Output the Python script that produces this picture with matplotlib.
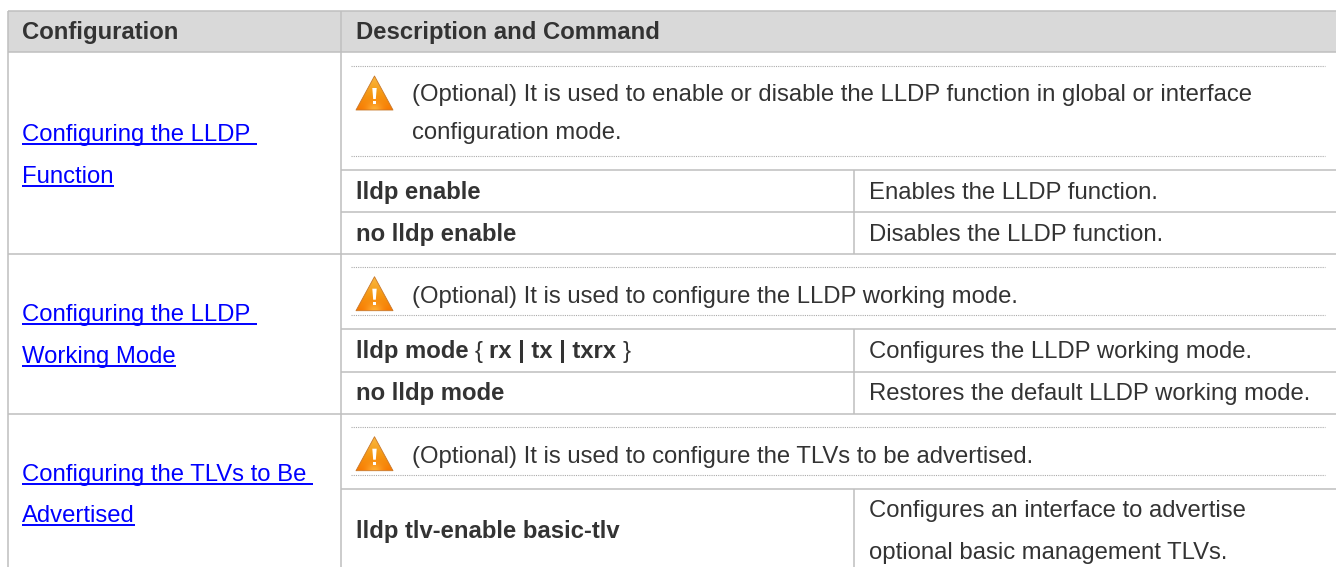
"""
LLDP configuration table
"""
import numpy as np
from matplotlib import pyplot as plt
from matplotlib.patches import Polygon, Rectangle

plt.rcParams['font.family'] = ['Liberation Sans', 'DejaVu Sans']

headers = ["Configuration", "Description and Command"]
linkLines = [["Configuring the LLDP ", "Function"],
             ["Configuring the LLDP ", "Working Mode"],
             ["Configuring the TLVs to Be ", "Advertised"]]
noteLines = [["(Optional) It is used to enable or disable the LLDP function in global or interface",
              "configuration mode."],
             ["(Optional) It is used to configure the LLDP working mode."],
             ["(Optional) It is used to configure the TLVs to be advertised."]]
# (text, bold) pieces, the mode command mixes weights
commands = [[("lldp enable", True)],
            [("no lldp enable", True)],
            [("lldp mode", True), ("{", False), ("rx | tx | txrx", True), ("}", False)],
            [("no lldp mode", True)],
            [("lldp tlv-enable basic-tlv", True)]]
commandNotes = [["Enables the LLDP function."],
                ["Disables the LLDP function."],
                ["Configures the LLDP working mode."],
                ["Restores the default LLDP working mode."],
                ["Configures an interface to advertise", "optional basic management TLVs."]]

# layout, in image pixels
W, H = 1336, 567
colLeft, colMid, colRight = 7.5, 340.5, 853.5
tableTop, headerBottom = 10.5, 52
groupLines = [253.5, 413.5]
innerLines = [169.5, 211.5, 329, 371.5, 488.5]
dotted = [(66, 155.7), (266.7, 315.3), (426.7, 475)]
linkBase = [(141, 183), (321, 363), (481, 522)]
noteBase = [(100.5, 139.5), (303,), (463,)]
commandBase = [199, 241, 358, 400, 538]
commandNoteBase = [(199,), (241,), (358,), (400,), (517, 559)]

lineColor = "#BFBFBF"
textColor = "#333333"
fontSize = 17.2

fig = plt.figure(figsize=(W/100, H/100), dpi=100)
ax = fig.add_axes([0, 0, 1, 1])
ax.set_xlim(0, W)
ax.set_ylim(H, 0)
ax.axis("off")


def drawIcon(top):
    """Orange warning triangle with a white mark, 37px wide and 34px tall"""
    left, right, bottom = 356, 393, top + 34
    mid = (left + right)/2
    # vertical fade, with a lighter glow low in the middle
    yy, xx = np.mgrid[0:1:40j, -1:1:40j]
    stops = np.array([[0.98, 0.72, 0.25], [0.96, 0.60, 0.08], [0.97, 0.47, 0.0]])
    shade = np.stack([np.interp(yy, [0, 0.5, 1], stops[:, c]) for c in range(3)], axis=2)
    glow = np.exp(-((xx/0.45)**2 + ((yy - 1)/0.22)**2))[:, :, None]
    shade = shade + (np.array([1.0, 0.68, 0.2]) - shade)*glow
    img = ax.imshow(shade, extent=(left, right, bottom, top), aspect="auto", zorder=3)
    tri = Polygon([(mid, top), (right, bottom), (left, bottom)], closed=True,
                  facecolor="none", edgecolor="#C8772A", lw=0.6, joinstyle="round", zorder=4)
    ax.add_patch(tri)
    img.set_clip_path(tri)
    ax.add_patch(Polygon([(mid - 2.2, top + 12), (mid + 2.2, top + 12), (mid + 1.3, top + 23), (mid - 1.3, top + 23)],
                         closed=True, facecolor="white", edgecolor="none", zorder=5))
    ax.add_patch(Rectangle((mid - 1.8, top + 25), 3.6, 3.4, facecolor="white", edgecolor="none", zorder=5))


def hline(y, x0, x1=W):
    ax.plot([x0, x1], [y, y], color=lineColor, lw=1.1, solid_capstyle="butt", zorder=2)


def vline(x, y0, y1=H):
    ax.plot([x, x], [y0, y1], color=lineColor, lw=1.1, solid_capstyle="butt", zorder=2)


def put(x, y, s, bold=False, color=textColor):
    return ax.text(x, y, s, fontsize=fontSize, color=color, va="baseline", ha="left",
                   fontweight="bold" if bold else "normal", zorder=6)


# header band and grid
ax.add_patch(Rectangle((colLeft, tableTop), W - colLeft, headerBottom - tableTop,
                       facecolor="#D9D9D9", edgecolor="none", zorder=1))
hline(tableTop, colLeft)
hline(headerBottom, colLeft)
vline(colLeft, tableTop)
vline(colMid, tableTop)
for y in groupLines:
    hline(y, colLeft)
for y in innerLines:
    hline(y, colMid)
vline(colRight, 169.5, 253.5)
vline(colRight, 329, 413.5)
vline(colRight, 488.5)

put(22, 39, headers[0], bold=True)
put(355.5, 39, headers[1], bold=True)

fig.canvas.draw()
renderer = fig.canvas.get_renderer()
spaceW = 0.278*fontSize*100/72

# links in the first column
for lines, bases in zip(linkLines, linkBase):
    for s, y in zip(lines, bases):
        t = put(22, y, s.rstrip(), color="#0000FF")
        w = t.get_window_extent(renderer).width
        if s.endswith(" "):
            w += spaceW
        ax.plot([22, 22 + w], [y + 3, y + 3], color="#0000FF", lw=1.4, solid_capstyle="butt", zorder=6)

# notes with the warning icon between dotted rules
for i, lines in enumerate(noteLines):
    for y in dotted[i]:
        ax.plot([351, 1325], [y, y], color="#ABABAB", lw=0.8, ls=(0, (1, 1)), zorder=2)
    drawIcon(dotted[i][0] + 10)
    for s, y in zip(lines, noteBase[i]):
        put(412, y, s)

# command rows
for pieces, y in zip(commands, commandBase):
    x = 355.5
    for s, bold in pieces:
        t = put(x, y, s, bold=bold)
        x += t.get_window_extent(renderer).width + spaceW

for lines, bases in zip(commandNotes, commandNoteBase):
    for s, y in zip(lines, bases):
        put(869, y, s)

ax.set_xlim(0, W)
ax.set_ylim(H, 0)
fig.savefig("out.png", dpi=100)
